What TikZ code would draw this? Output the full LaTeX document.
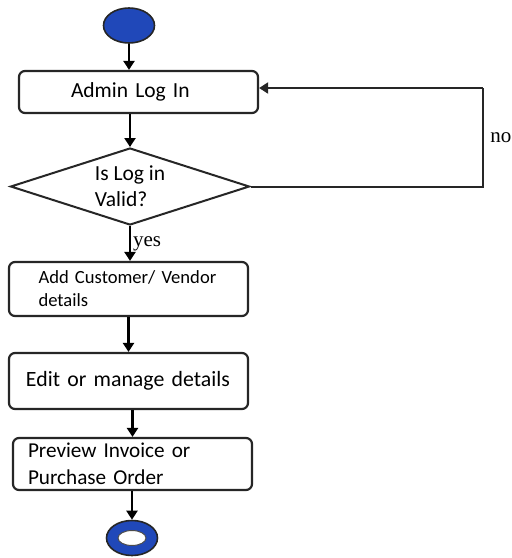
\documentclass[tikz,border=0pt]{standalone}
\usepackage{fontspec}
\setmainfont{Carlito}
\newfontfamily\notefont{Liberation Serif}
\usepackage{tikz}
\usetikzlibrary{arrows.meta}
\usetikzlibrary{shapes.geometric}
\definecolor{startblue}{RGB}{32,72,185}
\tikzstyle{stepbox}=[rectangle,rounded corners=6pt,draw=black!85,line width=2.2pt,fill=white,minimum width=239pt,inner sep=0pt,align=left]
\tikzstyle{decision}=[diamond,draw=black!85,line width=2pt,fill=white,minimum width=239pt,minimum height=77pt,aspect=3.1,inner sep=0pt,align=left,font=\fontsize{21.5}{26}\selectfont]
\tikzstyle{startdot}=[ellipse,draw=black!85,line width=1.6pt,fill=startblue,minimum width=51pt,minimum height=35pt]
\tikzstyle{hole}=[ellipse,draw=black!70,line width=1pt,fill=white,minimum width=28pt,minimum height=15pt,inner sep=0pt]
\tikzstyle{edge} = [draw,line width=2.2pt,-{Triangle[length=9pt,width=11pt]}]
\tikzstyle{loopedge} = [draw,line width=2pt,draw=black!85]
\tikzstyle{weight} = [font=\notefont\fontsize{21}{24}\selectfont]

\begin{document}
\begin{tikzpicture}[x=1pt,y=-1pt]

  \useasboundingbox (0,0) rectangle (512,558);

  \node[startdot] (start) at (129,25.5) {};

  \foreach \x/\y/\h/\tw/\fs/\fb/\name/\label in {138.5/92/42/135/21.5/26/login/{Admin Log In},
          128.5/289/54/180/18.6/23/addinfo/{Add Customer/ Vendor\\details},
          128.5/381/56/205/21.8/26/manage/{Edit or manage details},
          132.5/464/52/209/21.2/27/preview/{Preview Invoice or\\Purchase Order}}
          \node[stepbox,minimum height=\h pt,text width=\tw pt,font=\fontsize{\fs}{\fb}\selectfont] (\name) at (\x,\y) {\label};

  \node[decision] (valid) at (130,186.5) {Is Log in\\Valid?};

  \node[startdot] (finish) at (132,538) {};
  \node[hole] (finishhole) at (finish.center) {};

  \coordinate (nocorner) at (483,88);

  % main flow
  \path[edge] (start.south) -- (start.south |- login.north);
  \path[edge] (valid.north |- login.south) -- (valid.north);
  \path[edge] (valid.south) -- node[weight,right,inner sep=2pt] {yes} (valid.south |- addinfo.north);
  \path[edge] (addinfo.south) -- (manage.north);
  \path[edge] (preview.north |- manage.south) -- (preview.north);
  \path[edge] (finish.north |- preview.south) -- (finish.north);

  % back to log in
  \path[loopedge] (valid.east) -| node[weight,right,pos=0.75,xshift=3pt] {no} (nocorner);
  \path[edge,draw=black!85,line width=2pt] (nocorner) -- (login.east |- nocorner);

\end{tikzpicture}
\end{document}
